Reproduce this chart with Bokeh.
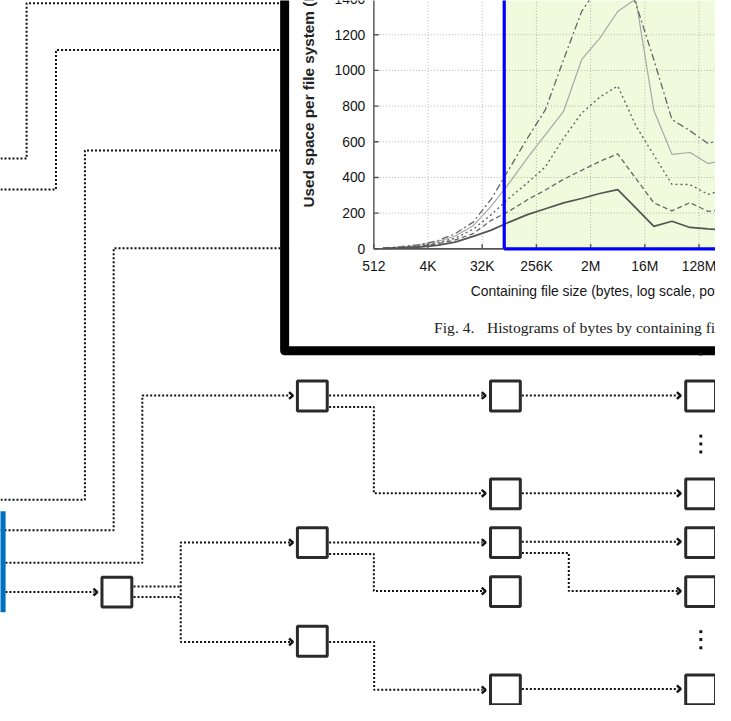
import math
from bokeh.plotting import figure
from bokeh.models import Range1d, LogScale
from bokeh.core.properties import value
from bokeh.embed import file_html
from bokeh.resources import INLINE

# ---------------- embedded histogram data ----------------
bin_lower_bytes = [512, 1024, 2048, 4096, 8192, 16384, 32768, 65536, 131072, 262144,
                   524288, 1048576, 2097152, 4194304, 8388608, 16777216, 33554432,
                   67108864, 134217728, 268435456]
series_solid_dark = [2, 5, 10, 20, 38, 70, 105, 150, 192, 225, 258, 282, 310, 332, 230, 126, 155, 120, 112, 105]
series_dashed = [3, 7, 14, 28, 50, 85, 160, 212, 275, 330, 390, 440, 490, 532, 395, 258, 213, 259, 210, 220]
series_dotted = [3, 8, 17, 33, 60, 110, 192, 285, 370, 460, 620, 760, 850, 913, 690, 525, 362, 360, 305, 335]
series_solid_light = [4, 10, 20, 40, 72, 130, 240, 370, 510, 640, 770, 1060, 1180, 1330, 1400, 775, 530, 540, 478, 500]
series_dashdot = [5, 12, 24, 45, 85, 150, 280, 450, 620, 780, 1060, 1330, 1480, 1560, 1375, 1060, 725, 662, 590, 620]

x_tick_values = [512, 4096, 32768, 262144, 2097152, 16777216, 134217728]
x_tick_labels = ["512", "4K", "32K", "256K", "2M", "16M", "128M"]
y_tick_values = [0, 200, 400, 600, 800, 1000, 1200, 1400]
y_tick_labels = ["0", "200", "400", "600", "800", "1000", "1200", "1400"]

x_title = "Containing file size (bytes, log scale, power-of-2 bins)"
y_title = "Used space per file system (MB)"
caption_num = "Fig. 4."
caption_text = "Histograms of bytes by containing file size"

# ---------------- geometry of the picture (pixel space 731 x 721) ----------------
W, H = 731, 721
AX_X = 381.7      # pixel x of the 512-byte axis
AX_Y = 254.0      # pixel y of the zero line
OCT = 18.47       # pixels per factor of two
PX200 = 36.5      # pixels per 200 units

p = figure(width=715, height=705, x_range=Range1d(0, W), y_range=Range1d(H, 0),
           output_backend="svg", toolbar_location=None, min_border=0,
           x_axis_location=None, y_axis_location=None,
           outline_line_color=None, background_fill_color="white",
           border_fill_color="white")
p.grid.visible = False

lo2 = 9 - AX_X / OCT
hi2 = 9 + (W - AX_X) / OCT
p.extra_x_ranges = {"cx": Range1d(2 ** lo2, 2 ** hi2)}
p.extra_x_scales = {"cx": LogScale()}
p.extra_y_ranges = {"cy": Range1d(-(H - AX_Y) * 200 / PX200, AX_Y * 200 / PX200)}
C = dict(x_range_name="cx", y_range_name="cy")
n_x = len(x_tick_values)
n_y = len(y_tick_values)

# highlighted region
p.quad(left=515, right=W + 30, top=-30, bottom=AX_Y, fill_color="#f0fadc", line_color=None)

# grid
p.segment(x0=[512] * n_y, x1=[2 ** 32] * n_y, y0=y_tick_values, y1=y_tick_values,
          line_color="#9a9a9a", line_alpha=0.7, line_width=1, line_dash="1 2", **C)
p.segment(x0=x_tick_values[1:] + [2 ** 30], x1=x_tick_values[1:] + [2 ** 30],
          y0=[0] * n_x, y1=[2000] * n_x,
          line_color="#9a9a9a", line_alpha=0.7, line_width=1, line_dash="1 2", **C)

# curves
centers = [b * math.sqrt(2) for b in bin_lower_bytes]
p.line(centers, series_solid_light, line_color="#a8a8a8", line_width=1.2, **C)
p.line(centers, series_dashdot, line_color="#666666", line_width=1.3, line_dash="7 3 2 3", **C)
p.line(centers, series_dotted, line_color="#666666", line_width=1.4, line_dash="2 3", **C)
p.line(centers, series_dashed, line_color="#666666", line_width=1.3, line_dash="5 3", **C)
p.line(centers, series_solid_dark, line_color="#555555", line_width=1.7, **C)

# axes of the embedded chart
p.segment(x0=[512], x1=[512], y0=[0], y1=[2000], line_color="#666666", line_width=1.6, **C)
p.segment(x0=[512], x1=[2 ** 32], y0=[0], y1=[0], line_color="#555555", line_width=1.6, **C)
tick_dx = 2 ** (5 / OCT)
p.segment(x0=[512] * n_y, x1=[512 * tick_dx] * n_y, y0=y_tick_values, y1=y_tick_values,
          line_color="#555555", line_width=1.4, **C)
p.segment(x0=x_tick_values, x1=x_tick_values, y0=[0] * n_x, y1=[5 * 200 / PX200] * n_x,
          line_color="#555555", line_width=1.4, **C)

# blue outline of highlighted region
p.segment(x0=[515, 515], x1=[515, W + 30], y0=[-30, AX_Y], y1=[AX_Y, AX_Y],
          line_color="#0000ff", line_width=3.2)

# tick labels
p.text(x=[512 / 2 ** (8.7 / OCT)] * n_y, y=y_tick_values, text=y_tick_labels,
       text_align="right", text_baseline="middle", text_font=value("Liberation Sans"),
       text_font_size="13.9px", text_color="#151515", **C)
p.text(x=x_tick_values, y=[-(17.7 * 200 / PX200)] * n_x, text=x_tick_labels,
       text_align="center", text_baseline="middle", text_font=value("Liberation Sans"),
       text_font_size="13.9px", text_color="#151515", **C)

# titles and caption
p.text(x=[480.7], y=[296.7], text=[x_title], text_align="left", text_baseline="middle",
       text_font=value("Liberation Sans"), text_font_size="13.9px", text_color="#151515")
p.text(x=[315], y=[211.7], text=[y_title], angle=math.pi / 2, text_align="left",
       text_baseline="middle", text_font=value("Liberation Sans"), text_font_size="15.3px",
       text_font_style="bold", text_color="#222222")
p.text(x=[443.3], y=[334.3], text=[caption_num], text_align="left", text_baseline="middle",
       text_font=value("Liberation Serif"), text_font_size="15.6px", text_color="#222222")
p.text(x=[497.3], y=[334.3], text=[caption_text], text_align="left", text_baseline="middle",
       text_font=value("Liberation Serif"), text_font_size="15.6px", text_color="#222222")

# black frame of the screenshot
p.line([290.5, 290.5, W + 40], [-30, 358.3, 358.3], line_color="black", line_width=9,
       line_join="round")

# ---------------- flow diagram ----------------
dotted = [
    [(0, 161.7), (26.7, 161.7), (26.7, 2.7), (286, 2.7)],
    [(0, 193.3), (56.7, 193.3), (56.7, 50.7), (286, 50.7)],
    [(0, 510.7), (86.3, 510.7), (86.3, 153.3), (286, 153.3)],
    [(0, 541.7), (115.7, 541.7), (115.7, 253.3), (286, 253.3)],
    [(5, 575), (145, 575), (145, 404), (296, 404)],
    [(5, 605), (96, 605)],
    [(136, 599.3), (184.3, 599.3)],
    [(136, 610), (184.3, 610)],
    [(296, 554.3), (184.3, 554.3), (184.3, 656), (296, 656)],
    [(336, 404), (493, 404)],
    [(336, 415.7), (381.7, 415.7), (381.7, 504), (493, 504)],
    [(336, 554.3), (493, 554.3)],
    [(336, 566), (381.7, 566), (381.7, 604), (493, 604)],
    [(336, 656), (382, 656), (382, 705), (493, 705)],
    [(533, 404), (693, 404)],
    [(533, 504), (693, 504)],
    [(533, 553.5), (693, 553.5)],
    [(533, 565), (581, 565), (581, 604), (693, 604)],
    [(533, 704), (693, 704)],
]
p.multi_line(xs=[[a for a, b in pl] for pl in dotted], ys=[[b for a, b in pl] for pl in dotted],
             line_color="#111111", line_width=2, line_dash="2 2")

tips = [(299, 404), (99, 605), (299, 554.3), (299, 656),
        (496, 404), (496, 504), (496, 554.3), (496, 604), (496, 705),
        (695.5, 404), (695.5, 504), (695.5, 553.5), (695.5, 604), (695.5, 704)]
p.multi_line(xs=[[tx - 4, tx, tx - 4] for tx, ty in tips],
             ys=[[ty - 3.5, ty, ty + 3.5] for tx, ty in tips],
             line_color="#111111", line_width=2.4)

boxes = [(119, 605), (318.8, 404.5), (318.8, 554.5), (318.8, 655.3),
         (516.2, 404.5), (516.2, 504.5), (516.2, 554.5), (516.2, 604.5), (516.2, 705),
         (715.8, 404.5), (715.8, 504.5), (715.8, 554.5), (715.8, 604.5), (715.8, 705)]
p.rect(x=[b[0] for b in boxes], y=[b[1] for b in boxes], width=30.5, height=30.5,
       fill_color="white", line_color="#2a2a2a", line_width=3)

p.rect(x=[716] * 7, y=[361.5, 445.5, 453.5, 461.7, 645.5, 653.5, 662], width=3, height=3,
       fill_color="#111111", line_color=None)

p.quad(left=-5, right=5.2, top=522.3, bottom=625.7, fill_color="#0070c0", line_color=None)

open("out.html", "w").write(file_html(p, INLINE))
